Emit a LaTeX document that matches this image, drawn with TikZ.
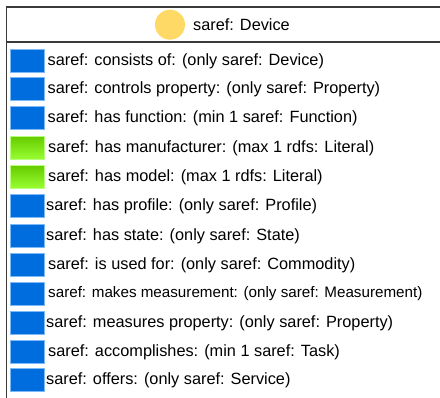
\documentclass[tikz,border=0pt]{standalone}
\usepackage{fontspec}
\setmainfont{Liberation Sans}
\definecolor{iconblue}{HTML}{006DDF}
\definecolor{iconblueedge}{HTML}{7DB8F7}
\definecolor{greentop}{HTML}{66CC00}
\definecolor{greenbot}{HTML}{99FF33}
\definecolor{greenedge}{HTML}{B8FF80}
\definecolor{classdot}{HTML}{FFD966}
\definecolor{framegray}{HTML}{3A3A3A}
\tikzset{
  objicon/.style={draw=iconblueedge, line width=1pt, fill=iconblue, minimum width=34pt, minimum height=23pt, inner sep=0pt, anchor=west},
  dataicon/.style={draw=greenedge, line width=1pt, top color=greentop, bottom color=greenbot, minimum width=34pt, minimum height=23pt, inner sep=0pt, anchor=west},
  rowtext/.style={anchor=west, inner sep=0pt, font=\fontsize{16.3pt}{18pt}\selectfont},
  smalltext/.style={anchor=west, inner sep=0pt, font=\fontsize{15.2pt}{17pt}\selectfont},
  frameline/.style={draw=framegray, line width=1.6pt},
}
\begin{document}
\begin{tikzpicture}[x=1pt, y=-1pt]
\useasboundingbox (0,0) rectangle (440,398);
\fill[white] (0,0) rectangle (440,398);
% frame
\coordinate (tl) at (6.5,7);
\coordinate (tr) at (441,7);
\coordinate (bl) at (6.5,399);
\coordinate (sl) at (6.5,42);
\coordinate (sr) at (441,42);
\draw[frameline] (tr) -- (tl) -- (bl);
\draw[frameline] (sl) -- (sr);
% header
\node[circle, fill=classdot, minimum size=30pt, inner sep=0pt] (dot) at (170,24.7) {};
\node[rowtext] (title) at (193,25) {saref: Device};
% rows
\node[objicon]  (i1)  at (9.5,61)    {};
\node[rowtext]  (t1)  at (47.5,61)   {saref: consists of: (only saref: Device)};
\node[objicon]  (i2)  at (9.5,89.5)  {};
\node[rowtext]  (t2)  at (47.5,89.5) {saref: controls property: (only saref: Property)};
\node[objicon]  (i3)  at (9.5,118)   {};
\node[rowtext]  (t3)  at (47.5,118)  {saref: has function: (min 1 saref: Function)};
\node[dataicon] (i4)  at (9.5,148)   {};
\node[rowtext]  (t4)  at (48,148)    {saref: has manufacturer: (max 1 rdfs: Literal)};
\node[dataicon] (i5)  at (9.5,177)   {};
\node[rowtext]  (t5)  at (48,177)    {saref: has model: (max 1 rdfs: Literal)};
\node[objicon]  (i6)  at (9.5,206.5) {};
\node[rowtext]  (t6)  at (46,206.5)  {saref: has profile: (only saref: Profile)};
\node[objicon]  (i7)  at (9.5,236)   {};
\node[rowtext]  (t7)  at (46,236)    {saref: has state: (only saref: State)};
\node[objicon]  (i8)  at (9.5,265)   {};
\node[rowtext]  (t8)  at (48,265)    {saref: is used for: (only saref: Commodity)};
\node[objicon]  (i9)  at (9.5,294)   {};
\node[smalltext](t9)  at (48,294)    {saref: makes measurement: (only saref: Measurement)};
\node[objicon]  (i10) at (9.5,323.5) {};
\node[rowtext]  (t10) at (46,323.5)  {saref: measures property: (only saref: Property)};
\node[objicon]  (i11) at (9.5,352)   {};
\node[rowtext]  (t11) at (48,352)    {saref: accomplishes: (min 1 saref: Task)};
\node[objicon]  (i12) at (9.5,380)   {};
\node[rowtext]  (t12) at (46,380)    {saref: offers: (only saref: Service)};
\end{tikzpicture}
\end{document}
